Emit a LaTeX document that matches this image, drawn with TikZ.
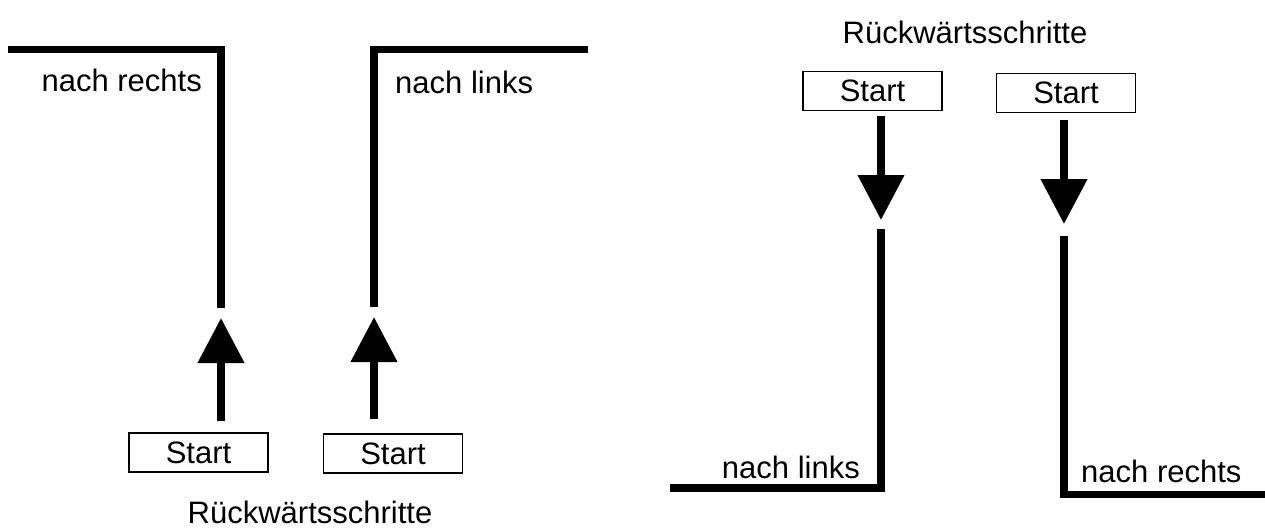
\documentclass[tikz,border=0pt]{standalone}
\usepackage{fontspec}
\setmainfont{Liberation Sans}
\usetikzlibrary{arrows.meta}
\tikzstyle{startbox} = [rectangle, draw=black, line width=1.5pt, minimum width=139pt, minimum height=39pt, inner sep=0pt, text centered, font=\fontsize{31}{37}\selectfont]
\tikzstyle{caption} = [inner sep=0pt, font=\fontsize{31}{37}\selectfont]
\tikzstyle{track} = [line width=7.5pt, line join=miter]
\tikzstyle{arrow} = [line width=7.5pt, -{Triangle[length=45pt, width=45pt]}]

\begin{document}
\begin{tikzpicture}[x=1pt, y=-1pt]
	\useasboundingbox (0,0) rectangle (1265,528);

		\node (start-a) [startbox] at (198.5,452.5) {Start};
		\node (start-b) [startbox] at (393,453.5) {Start};
		\node (start-c) [startbox] at (872.5,91) {Start};
		\node (start-d) [startbox] at (1066,93) {Start};

		\coordinate (foot-a) at (221,308);
		\coordinate (corner-a) at (221,49.5);
		\coordinate (end-a) at (8,49.5);
		\coordinate (foot-b) at (374,307);
		\coordinate (corner-b) at (374,49.5);
		\coordinate (end-b) at (588,49.5);
		\coordinate (head-c) at (881,229);
		\coordinate (corner-c) at (881,488);
		\coordinate (end-c) at (670,488);
		\coordinate (head-d) at (1064,236);
		\coordinate (corner-d) at (1064,494.5);
		\coordinate (end-d) at (1265,494.5);

		\node (label-a) [caption, anchor=base east] at (202,91) {nach rechts};
		\node (label-b) [caption, anchor=base west] at (395,93) {nach links};
		\node (label-c) [caption, anchor=base east] at (860,478) {nach links};
		\node (label-d) [caption, anchor=base west] at (1081,482) {nach rechts};
		\node (title-left) [caption, anchor=base] at (310,523) {Rückwärtsschritte};
		\node (title-right) [caption, anchor=base] at (965,43) {Rückwärtsschritte};

		\draw[track] (foot-a) -- (corner-a) -- (end-a);
		\draw[track] (foot-b) -- (corner-b) -- (end-b);
		\draw[track] (head-c) -- (corner-c) -- (end-c);
		\draw[track] (head-d) -- (corner-d) -- (end-d);

		\draw[arrow, shorten <=11pt, shorten >=10pt] (start-a.north -| foot-a) -- (foot-a);
		\draw[arrow, shorten <=14pt, shorten >=10pt] (start-b.north -| foot-b) -- (foot-b);
		\draw[arrow, shorten <=5pt, shorten >=9pt] (start-c.south -| head-c) -- (head-c);
		\draw[arrow, shorten <=7pt, shorten >=12pt] (start-d.south -| head-d) -- (head-d);
	\end{tikzpicture}
\end{document}
